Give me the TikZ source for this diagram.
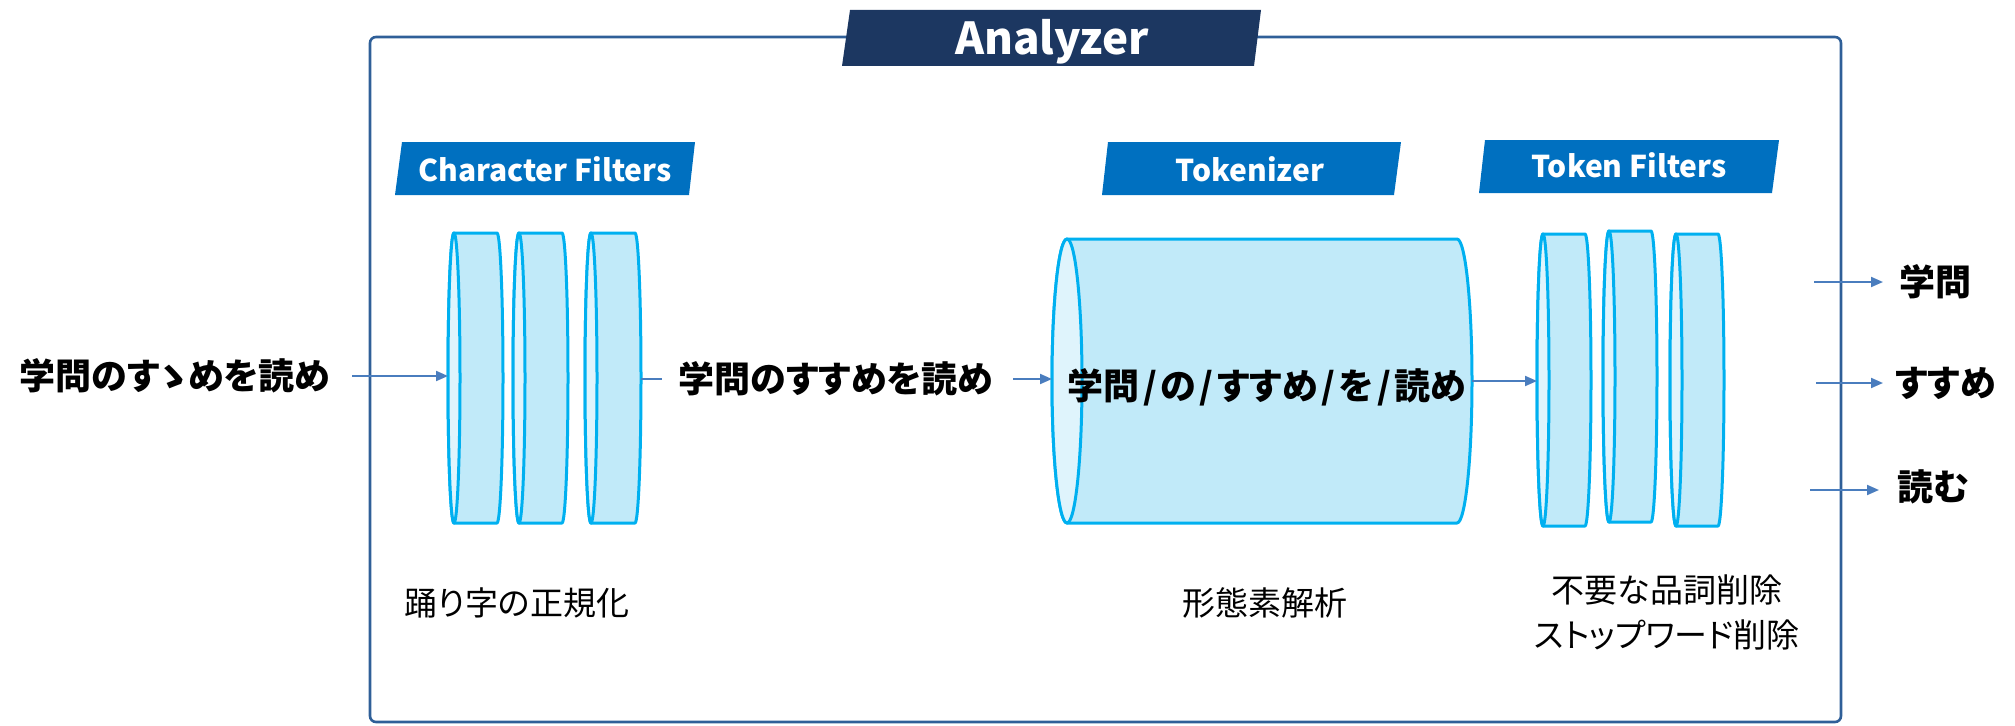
\documentclass[tikz,border=0pt]{standalone}
\usepackage{fontspec}
\setmainfont{Noto Sans}
\newfontfamily\jpfont[RawFeature=+palt]{Noto Sans CJK JP}
\usetikzlibrary{arrows.meta,calc}

\definecolor{navy}{HTML}{1C3761}
\definecolor{bannerblue}{HTML}{0070C0}
\definecolor{framecol}{HTML}{2F5F98}
\definecolor{arrowcol}{HTML}{4A7DBE}
\definecolor{drumline}{HTML}{00B0F0}
\definecolor{drumfill}{HTML}{C1EAF9}
\definecolor{drumface}{HTML}{DFF4FC}

\tikzset{
  bannertext/.style={text=white, font=\jpfont\bfseries\fontsize{15}{18}\selectfont, inner sep=0, anchor=base},
  conn/.style={draw=arrowcol, line width=1pt},
  arr/.style={conn, -{Triangle[length=6pt,width=5pt]}},
  drumedge/.style={draw=drumline, line width=1.5pt, line join=round},
  bigjp/.style={font=\jpfont\bfseries\fontsize{18}{22}\selectfont, inner sep=0},
  notejp/.style={font=\jpfont\fontsize{16.5}{22.5}\selectfont, inner sep=0, align=center},
}

% slash with a little air around it
\newcommand{\tokslash}{\hspace{0.1em}/\hspace{0.1em}}

% horizontal drum: name, left x, right x, top y, bottom y, half-width of end faces
\newcommand{\drum}[6]{%
  \pgfmathsetmacro{\dmid}{(#4+#5)/2}%
  \pgfmathsetmacro{\dry}{(#4-#5)/2}%
  \path[drumedge, fill=drumfill] ({#2+#6},#4) -- ({#3-#6},#4)
    arc[start angle=90, end angle=-90, x radius=#6, y radius=\dry]
    -- ({#2+#6},#5)
    arc[start angle=270, end angle=90, x radius=#6, y radius=\dry] -- cycle;
  \path[drumedge, fill=drumface] ({#2+#6},\dmid) ellipse[x radius=#6, y radius=\dry];
  \coordinate (#1w) at (#2,\dmid);
  \coordinate (#1e) at (#3,\dmid);
}

\begin{document}
\begin{tikzpicture}[x=0.5pt, y=0.5pt]
\useasboundingbox (0,0) rectangle (2015,725);

% analyzer frame and title
\draw[framecol, line width=1.3pt, rounded corners=3pt] (370,3) rectangle (1841,688);
\fill[navy] (842,659) -- (850,715) -- (1261,715) -- (1254,659) -- cycle;
\node[bannertext, font=\jpfont\bfseries\fontsize{22}{26}\selectfont] (analyzer) at (1052,670) {Analyzer};

% stage banners
\fill[bannerblue] (395,530) -- (402,583) -- (695,583) -- (689,530) -- cycle;
\node[bannertext] (cfl) at (545,544) {Character Filters};
\fill[bannerblue] (1102,530) -- (1108,583) -- (1401,583) -- (1394,530) -- cycle;
\node[bannertext] (tkl) at (1250,544) {Tokenizer};
\fill[bannerblue] (1479,532) -- (1485,585) -- (1779,585) -- (1772,532) -- cycle;
\node[bannertext] (tfl) at (1629,548) {Token Filters};

% character filters
\drum{d1}{448}{503}{492}{202}{6}
\drum{d2}{513}{568}{492}{202}{6}
\drum{d3}{585}{641}{492}{202}{6}

% tokenizer
\drum{cyl}{1052}{1472}{486}{202}{15}

% token filters
\drum{t1}{1537}{1591}{491}{199}{6}
\drum{t2}{1603}{1657}{494}{203}{6}
\drum{t3}{1670}{1724}{491}{199}{6}

% texts flowing through
\node[bigjp] (src) at (175,349) {学問のすゝめを読め};
\node[bigjp] (mid) at (836,346) {学問のすすめを読め};
\node[bigjp] (tok) at (1267,338) {学問\tokslash の\tokslash すすめ\tokslash を\tokslash 読め};

\node[bigjp, anchor=west] (o1) at (1899,443) {学問};
\node[bigjp, anchor=west] (o2) at (1895,342) {すすめ};
\node[bigjp, anchor=west] (o3) at (1897,238) {読む};

% stage notes
\node[notejp] (n1) at (517,122) {踊り字の正規化};
\node[notejp] (n2) at (1265,122) {形態素解析};
\node[notejp] (n3) at (1667,113) {不要な品詞削除\\ストップワード削除};

% connectors
\draw[arr, shorten <=11pt] (src.east) -- (src.east -| d1w);
\draw[conn, shorten >=8.5pt] (mid.west -| d3e) -- (mid.west);
\draw[arr, shorten <=10pt] (mid.east) -- (mid.east -| cylw);
\draw[arr] (cyle) -- (cyle -| t1w);

\coordinate (o1s) at (1814,443);
\coordinate (o2s) at (1816,342);
\coordinate (o3s) at (1810,235);
\draw[arr, shorten >=8pt] (o1s) -- (o1.west);
\draw[arr, shorten >=6pt] (o2s) -- (o2.west);
\draw[arr, shorten >=9pt] (o3s) -- (o3s -| o3.west);
\end{tikzpicture}
\end{document}
